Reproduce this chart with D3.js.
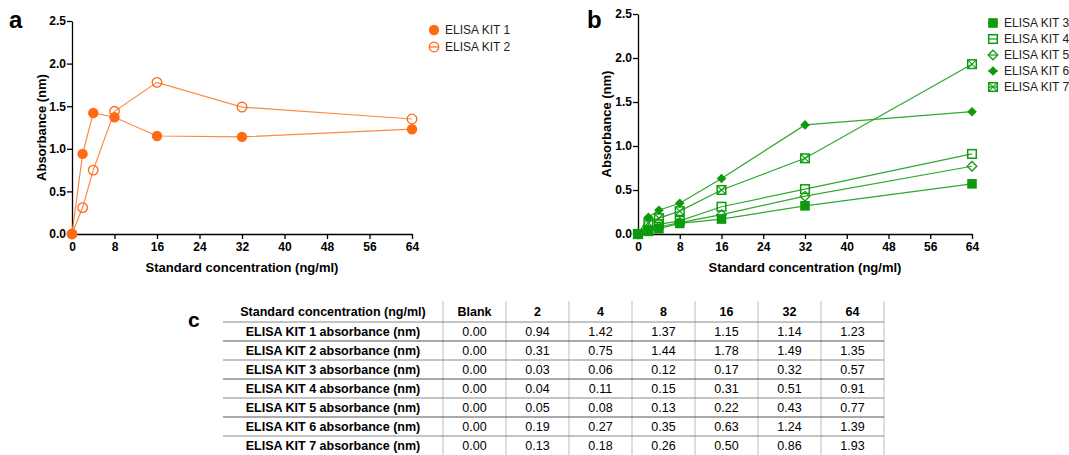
<!DOCTYPE html>
<html>
<head>
<meta charset="utf-8">
<script src="https://cdn.jsdelivr.net/npm/d3@7"></script>
<style>
  body { margin: 0; background: #fff; }
  svg { display: block; font-family: "Liberation Sans", Arial, sans-serif; }
  .axis path, .axis line { stroke: #000; stroke-width: 1.3; }
  .axis text { font-size: 12px; font-weight: bold; fill: #000; }
  .tbl { font-family: "Liberation Sans Narrow", "Arial Narrow", "Liberation Sans", sans-serif; font-size: 12.5px; }
</style>
</head>
<body>
<svg width="1069" height="455"></svg>
<script>
var concentrations = [0, 2, 4, 8, 16, 32, 64];
var kit1 = [0.00, 0.94, 1.42, 1.37, 1.15, 1.14, 1.23];
var kit2 = [0.00, 0.31, 0.75, 1.44, 1.78, 1.49, 1.35];
var kit3 = [0.00, 0.03, 0.06, 0.12, 0.17, 0.32, 0.57];
var kit4 = [0.00, 0.04, 0.11, 0.15, 0.31, 0.51, 0.91];
var kit5 = [0.00, 0.05, 0.08, 0.13, 0.22, 0.43, 0.77];
var kit6 = [0.00, 0.19, 0.27, 0.35, 0.63, 1.24, 1.39];
var kit7 = [0.00, 0.13, 0.18, 0.26, 0.50, 0.86, 1.93];
var xTicks = [0, 8, 16, 24, 32, 40, 48, 56, 64];
var yTicks = [0, 0.5, 1.0, 1.5, 2.0, 2.5];
var tableHeaders = ["Blank", "2", "4", "8", "16", "32", "64"];

var orange = "#ff6a13", orangeLine = "#fb8a48";
var green = "#0e9a0e", greenLine = "#2fa82f";

var svg = d3.select("svg");

// draws one marker shape centred at 0,0 inside g
function marker(g, type, color) {
    if (type == "circle") {
        g.append("circle").attr("r", 5.2).attr("fill", color);
    } else if (type == "circleOpen") {
        g.append("circle").attr("r", 4.8).attr("fill", "none").attr("stroke", color).attr("stroke-width", 1.3);
    } else if (type == "square") {
        g.append("rect").attr("x", -4.8).attr("y", -4.8).attr("width", 9.6).attr("height", 9.6).attr("fill", color);
    } else if (type == "squareOpen") {
        g.append("rect").attr("x", -4.3).attr("y", -4.3).attr("width", 8.6).attr("height", 8.6)
            .attr("fill", "none").attr("stroke", color).attr("stroke-width", 1.5);
    } else if (type == "diamondOpen") {
        g.append("path").attr("d", "M0,-4.8L4.8,0L0,4.8L-4.8,0Z")
            .attr("fill", "none").attr("stroke", color).attr("stroke-width", 1.3);
    } else if (type == "diamond") {
        g.append("path").attr("d", "M0,-4.8L4.8,0L0,4.8L-4.8,0Z").attr("fill", color);
    } else if (type == "squareX") {
        g.append("rect").attr("x", -4.3).attr("y", -4.3).attr("width", 8.6).attr("height", 8.6)
            .attr("fill", "none").attr("stroke", color).attr("stroke-width", 1.5);
        g.append("path").attr("d", "M-4.3,-4.3L4.3,4.3M4.3,-4.3L-4.3,4.3").attr("stroke", color).attr("stroke-width", 1.1);
    }
}

function panel(opts) {
    var x = d3.scaleLinear().domain([0, 64]).range([opts.left, opts.right]);
    var y = d3.scaleLinear().domain([0, 2.5]).range([opts.bottom, opts.top]);

    svg.append("g").attr("class", "axis")
        .attr("transform", "translate(0," + opts.bottom + ")")
        .call(d3.axisBottom(x).tickValues(xTicks).tickSize(5).tickSizeOuter(0).tickPadding(3));
    svg.append("g").attr("class", "axis")
        .attr("transform", "translate(" + opts.left + ",0)")
        .call(d3.axisLeft(y).tickValues(yTicks).tickFormat(d3.format(".1f")).tickSize(5).tickSizeOuter(0).tickPadding(1));

    svg.append("text")
        .attr("x", (opts.left + opts.right) / 2).attr("y", opts.bottom + 38)
        .attr("text-anchor", "middle").attr("font-size", 13).attr("font-weight", "bold")
        .text("Standard concentration (ng/ml)");
    svg.append("text")
        .attr("transform", "translate(" + opts.yTitleX + "," + (opts.top + opts.bottom) / 2 + ") rotate(-90)")
        .attr("text-anchor", "middle").attr("dy", "0.35em").attr("font-size", 13).attr("font-weight", "bold")
        .text("Absorbance (nm)");
    svg.append("text").attr("x", opts.labelX).attr("y", 28)
        .attr("font-size", 24).attr("font-weight", "bold").text(opts.label);

    var line = d3.line().x(function(d, i) { return x(concentrations[i]); }).y(function(d) { return y(d); });

    opts.series.forEach(function(s) {
        svg.append("path").datum(s.values).attr("d", line)
            .attr("fill", "none").attr("stroke", opts.lineColor).attr("stroke-width", 1.2);
    });
    opts.series.forEach(function(s) {
        s.values.forEach(function(v, i) {
            var g = svg.append("g").attr("transform", "translate(" + x(concentrations[i]) + "," + y(v) + ")");
            marker(g, s.type, opts.color);
        });
    });

    // legend
    opts.series.forEach(function(s, i) {
        var ly = opts.legendY + i * opts.legendStep;
        svg.append("line").attr("x1", opts.legendX - 5).attr("x2", opts.legendX + 5)
            .attr("y1", ly).attr("y2", ly).attr("stroke", opts.color).attr("stroke-width", 1.2);
        var g = svg.append("g").attr("transform", "translate(" + opts.legendX + "," + ly + ")");
        marker(g, s.type, opts.color);
        svg.append("text").attr("x", opts.legendX + 11).attr("y", ly).attr("dy", "0.35em")
            .attr("font-size", 12).attr("fill", "#222").text(s.name);
    });
}

panel({
    left: 72, right: 412, top: 21, bottom: 234, yTitleX: 41, label: "a", labelX: 9,
    color: orange, lineColor: orangeLine, legendX: 434, legendY: 30, legendStep: 17,
    series: [
        { name: "ELISA KIT 1", values: kit1, type: "circle" },
        { name: "ELISA KIT 2", values: kit2, type: "circleOpen" }
    ]
});

panel({
    left: 638, right: 972, top: 14, bottom: 234, yTitleX: 606, label: "b", labelX: 587,
    color: green, lineColor: greenLine, legendX: 993, legendY: 23, legendStep: 16,
    series: [
        { name: "ELISA KIT 3", values: kit3, type: "square" },
        { name: "ELISA KIT 4", values: kit4, type: "squareOpen" },
        { name: "ELISA KIT 5", values: kit5, type: "diamondOpen" },
        { name: "ELISA KIT 6", values: kit6, type: "diamond" },
        { name: "ELISA KIT 7", values: kit7, type: "squareX" }
    ]
});

// table (panel c)
var rows = [kit1, kit2, kit3, kit4, kit5, kit6, kit7];
var tLeft = 223, tFirst = 443, tRight = 884, tTop = 301, headH = 21, rowH = 19;
var colX = d3.scaleBand().domain(tableHeaders).range([tFirst, tRight]);
var tbl = svg.append("g").attr("class", "tbl");

svg.append("text").attr("x", 188).attr("y", 327).attr("font-size", 21).attr("font-weight", "bold").text("c");

tableHeaders.forEach(function(h) {
    tbl.append("line").attr("x1", colX(h)).attr("x2", colX(h))
        .attr("y1", tTop).attr("y2", tTop + headH + rows.length * rowH).attr("stroke", "#bdbdbd");
});
tbl.append("line").attr("x1", tRight).attr("x2", tRight)
    .attr("y1", tTop).attr("y2", tTop + headH + rows.length * rowH).attr("stroke", "#bdbdbd");

for (var r = 0; r < rows.length; r++) {
    var ly = tTop + headH + r * rowH;
    tbl.append("line").attr("x1", tLeft).attr("x2", tRight).attr("y1", ly).attr("y2", ly)
        .attr("stroke", r % 2 ? "#555" : "#888");
}

tbl.append("text").attr("x", (tLeft + tFirst) / 2).attr("y", tTop + headH / 2).attr("dy", "0.35em")
    .attr("text-anchor", "middle").attr("font-weight", "bold").text("Standard concentration (ng/ml)");
tableHeaders.forEach(function(h) {
    tbl.append("text").attr("x", colX(h) + colX.bandwidth() / 2).attr("y", tTop + headH / 2).attr("dy", "0.35em")
        .attr("text-anchor", "middle").attr("font-weight", "bold").text(h);
});

rows.forEach(function(vals, r) {
    var cy = tTop + headH + r * rowH + rowH / 2;
    tbl.append("text").attr("x", (tLeft + tFirst) / 2).attr("y", cy).attr("dy", "0.35em")
        .attr("text-anchor", "middle").attr("font-weight", "bold")
        .text("ELISA KIT " + (r + 1) + " absorbance (nm)");
    vals.forEach(function(v, i) {
        tbl.append("text").attr("x", colX(tableHeaders[i]) + colX.bandwidth() / 2).attr("y", cy).attr("dy", "0.35em")
            .attr("text-anchor", "middle").text(v.toFixed(2));
    });
});
</script>
</body>
</html>
